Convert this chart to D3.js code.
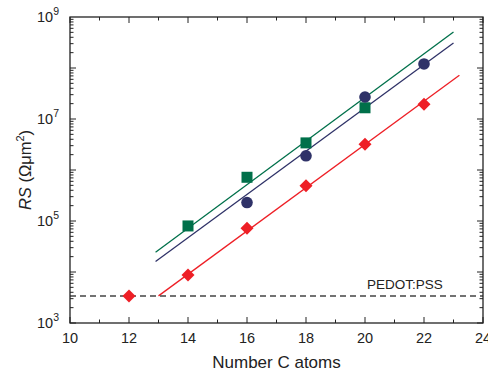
<!DOCTYPE html>
<html><head><meta charset="utf-8">
<script src="https://cdn.jsdelivr.net/npm/d3@7"></script>
<style>body{margin:0;background:#fff}svg{display:block;font-family:"Liberation Sans",Arial,sans-serif}</style>
</head><body><svg id="c" width="488" height="373"></svg>
<script>
const carbonsRed = [12,14,16,18,20,22];
const valuesRed = [3400, 8700, 72000, 490000, 3.2e6, 1.95e7];
const carbonsNavy = [16,18,20,22];
const valuesNavy = [2.3e5, 1.9e6, 2.7e7, 1.2e8];
const carbonsGreen = [14,16,18,20];
const valuesGreen = [8.0e4, 7.2e5, 3.4e6, 1.66e7];
const fitRed = [[13, 3.4e3],[23.2, 7.2e7]];
const fitNavy = [[12.9, 1.6e4],[23, 3.1e8]];
const fitGreen = [[12.9, 2.45e4],[23, 5.1e8]];
const pedotValue = 3.4e3;
const xTicks = [10,12,14,16,18,20,22,24];
const yTickPowers = [3,5,7,9];

const svg = d3.select("#c");
const L=70,R=483,T=17,B=323;
const x = d3.scaleLinear().domain([10,24]).range([L,R]);
const y = d3.scaleLog().domain([1e3,1e9]).range([B,T]);
const red="#ee1f26", navy="#2f3268", green="#00704a";

const line = d3.line().x(d=>x(d[0])).y(d=>y(d[1]));
[[fitGreen,green],[fitNavy,navy],[fitRed,red]].forEach(([d,c])=>{
  svg.append("path").attr("d",line(d)).attr("fill","none").attr("stroke",c).attr("stroke-width",1.3);
});
svg.append("line").attr("x1",L).attr("x2",R).attr("y1",y(pedotValue)).attr("y2",y(pedotValue))
  .attr("stroke","#444").attr("stroke-width",1.5).attr("stroke-dasharray","6,4");
svg.append("text").attr("x",367).attr("y",289).attr("font-size",13.5).attr("fill","#222").text("PEDOT:PSS");

svg.selectAll(".g").data(carbonsGreen).join("rect").attr("x",(d,i)=>x(d)-5.5).attr("y",(d,i)=>y(valuesGreen[i])-5.5)
  .attr("width",11).attr("height",11).attr("fill",green);
svg.selectAll(".n").data(carbonsNavy).join("circle").attr("cx",d=>x(d)).attr("cy",(d,i)=>y(valuesNavy[i])).attr("r",5.8).attr("fill",navy);
svg.selectAll(".r").data(carbonsRed).join("path").attr("d",d3.symbol(d3.symbolSquare,85)())
  .attr("transform",(d,i)=>`translate(${x(d)},${y(valuesRed[i])}) rotate(45)`).attr("fill",red);

const ax = svg.append("g").attr("stroke","#222").attr("stroke-width",1.3);
ax.append("rect").attr("x",L).attr("y",T).attr("width",R-L).attr("height",B-T).attr("fill","none");
const g2 = svg.append("g").attr("stroke","#222").attr("stroke-width",1);
d3.range(10,24.5,1).forEach(v=>{
  const len = v%2===0?6:3.5;
  g2.append("line").attr("x1",x(v)).attr("x2",x(v)).attr("y1",B).attr("y2",B-len);
  g2.append("line").attr("x1",x(v)).attr("x2",x(v)).attr("y1",T).attr("y2",T+len);
});
for(let p=3;p<9;p++){
  for(let m=1;m<10;m++){
    const v=m*Math.pow(10,p);
    const len = m===1?6:3.5;
    g2.append("line").attr("x1",L).attr("x2",L+len).attr("y1",y(v)).attr("y2",y(v));
    g2.append("line").attr("x1",R).attr("x2",R-len).attr("y1",y(v)).attr("y2",y(v));
  }
}
svg.selectAll(".xt").data(xTicks).join("text").attr("x",d=>x(d)).attr("y",343).attr("text-anchor","middle")
  .attr("font-size",14.5).attr("fill","#222").text(d=>d);
yTickPowers.forEach(p=>{
  const t = svg.append("text").attr("x",59).attr("y",y(Math.pow(10,p))+5).attr("text-anchor","end").attr("font-size",14.5).attr("fill","#222");
  t.append("tspan").text("10");
  t.append("tspan").attr("dy",-7).attr("font-size",10.5).text(p);
});
svg.append("text").attr("x",x(17)).attr("y",368).attr("text-anchor","middle").attr("font-size",17).attr("fill","#222").text("Number C atoms");
const yt = svg.append("text").attr("transform",`translate(31,${(T+B)/2}) rotate(-90)`).attr("text-anchor","middle").attr("font-size",16.5).attr("fill","#222");
yt.append("tspan").attr("font-style","italic").text("RS");
yt.append("tspan").text(" (Ωμm");
yt.append("tspan").attr("dy",-7).attr("font-size",11).text("2");
yt.append("tspan").attr("dy",7).text(")");
</script></body></html>
